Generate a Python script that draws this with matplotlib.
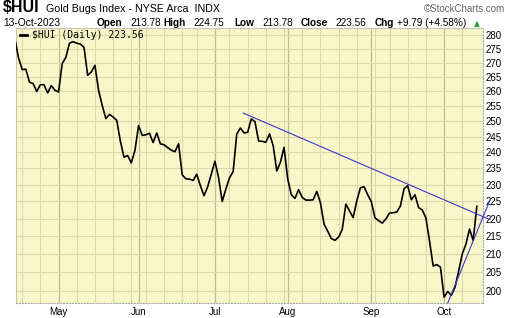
# Gold Bugs Index ($HUI) daily close, April - October 2023
import numpy as np
import matplotlib.pyplot as plt

plt.rcParams['font.family'] = ['Liberation Sans', 'DejaVu Sans']

# Trading-day index, 0 = 1 May 2023 (first trading day of May)
day = list(range(-12, 116))

# Daily close
close = [
    278.5, 271.7, 267.6, 267.7, 263.2, 262.7, 260.0, 262.3, 262.3, 259.5,
    262.0, 260.4, 259.8, 269.7, 271.9, 277.0, 277.6, 277.0, 276.7, 275.5,
    265.6, 266.7, 269.1, 260.4, 255.3, 250.9, 252.3, 251.4, 250.3, 243.5,
    238.5, 239.0, 236.7, 240.6, 248.6, 245.4, 245.6, 246.1, 243.1, 246.2,
    242.7, 242.4, 241.5, 240.7, 240.2, 242.7, 233.0, 231.8, 231.7, 231.3,
    233.2, 229.7, 226.7, 229.4, 233.3, 237.2, 232.1, 225.0, 228.7, 232.1,
    234.0, 245.9, 247.8, 246.2, 246.4, 250.8, 249.9, 243.6, 243.5, 243.2,
    245.9, 242.2, 234.2, 236.9, 241.6, 231.8, 227.0, 225.9, 228.5, 226.2,
    225.4, 225.4, 225.5, 228.0, 224.6, 218.4, 216.4, 214.3, 213.8, 214.7,
    216.9, 224.2, 222.2, 220.3, 225.2, 229.1, 229.4, 227.0, 224.9, 220.2,
    219.4, 218.7, 219.9, 221.6, 221.7, 221.9, 223.7, 228.8, 229.7, 225.5,
    227.0, 223.2, 222.5, 220.2, 213.6, 206.7, 207.1, 206.4, 198.4, 199.9,
    198.9, 201.0, 205.3, 210.0, 212.7, 217.0, 213.77, 223.56,
]

# Month labels and the trading-day index where each month starts
month_names = ["May", "Jun", "Jul", "Aug", "Sep", "Oct"]
month_starts = [0, 22, 43, 63, 86, 106]

# First trading day of each week (lighter grid lines)
week_starts = [-10, -5, 5, 10, 15, 20, 24, 29, 34, 38, 47, 52, 57, 62,
               67, 72, 77, 82, 87, 91, 96, 101, 111]

price_ticks = list(range(200, 281, 5))

# Trendlines drawn on the chart (day index, price)
upper_trend_day = [50.8, 118.6]
upper_trend_price = [252.7, 219.7]
lower_trend_day = [107.0, 118.6]
lower_trend_price = [196.9, 225.4]

W, H = 520, 318


def px(x, y):
    # pixel position -> figure fraction
    return x / W, 1 - y / H


fig = plt.figure(figsize=(W / 100, H / 100), dpi=100)
fig.patch.set_facecolor("white")
ax = fig.add_axes([16 / W, 1 - 303 / H, (483 - 16) / W, (303 - 28) / H])
ax.set_facecolor("#f9f7c9")

# Price line and trendlines
ax.plot(day, close, color="black", linewidth=1.2, zorder=3)
ax.plot(upper_trend_day, upper_trend_price, color="#3a3acc",
        linewidth=0.8, zorder=4, clip_on=False)
ax.plot(lower_trend_day, lower_trend_price, color="#3a3acc",
        linewidth=0.8, zorder=4, clip_on=False)

# Axes scales
ax.set_yscale("log")
ax.set_xlim(-11.7, 116.7)
ax.set_ylim(196.9, 282.6)

ax.set_yticks(price_ticks)
ax.set_yticklabels([str(p) for p in price_ticks])
ax.yaxis.set_minor_locator(plt.NullLocator())
ax.yaxis.tick_right()

ax.set_xticks(month_starts)
ax.set_xticklabels(month_names)
ax.set_xticks(week_starts, minor=True)

ax.tick_params(axis="y", which="both", length=0, pad=2, labelsize=7,
               colors="black")
ax.tick_params(axis="x", which="both", length=0, pad=3, labelsize=7)

# Grid: light weekly lines, darker month lines
ax.xaxis.grid(True, which="minor", color="#dcdaa8", linewidth=0.8)
ax.xaxis.grid(True, which="major", color="#bdbb92", linewidth=0.9)
ax.yaxis.grid(True, which="major", color="#dcdaa8", linewidth=0.8)
ax.set_axisbelow(True)

for side in ["left", "top"]:
    ax.spines[side].set_color("#c4c4b0")
    ax.spines[side].set_linewidth(0.8)
for side in ["bottom", "right"]:
    ax.spines[side].set_color("#aaaaaa")
    ax.spines[side].set_linewidth(0.8)
    ax.spines[side].set_linestyle(":")

# Legend entry inside the plot
ax.plot([0.009, 0.024], [0.973, 0.973], transform=ax.transAxes,
        color="black", linewidth=2, clip_on=False, zorder=5)
ax.text(0.034, 0.973, "$HUI (Daily) 223.56", transform=ax.transAxes,
        family="DejaVu Sans Mono", fontsize=7, va="center", ha="left",
        zorder=5)

# Header, first line
fig.text(*px(3, 8), "$HUI", fontsize=11.5, fontweight="bold", va="center")
fig.text(*px(46, 8.5), "Gold Bugs Index - NYSE Arca  INDX", fontsize=7.7,
         va="center")
fig.text(*px(505, 8.5), "\u00a9StockCharts.com", fontsize=7,
         color="#666666", va="center", ha="right")

# Header, second line
fig.text(*px(3, 23.5), "13-Oct-2023", fontsize=7.4, va="center")
header = [
    (97, "Open", True), (130, "213.78", False),
    (163, "High", True), (193, "224.75", False),
    (234, "Low", True), (262, "213.78", False),
    (301, "Close", True), (335, "223.56", False),
    (375, "Chg", True), (397, "+9.79 (+4.58%)", False),
]
for x, label, bold in header:
    fig.text(*px(x, 23.5), label, fontsize=7.2, va="center",
             fontweight="bold" if bold else "normal")
fig.text(*px(474, 23.5), "\u25b2", fontsize=5.5, color="#339933",
         va="center", family=["DejaVu Sans"])

fig.savefig("out.png", dpi=100)
